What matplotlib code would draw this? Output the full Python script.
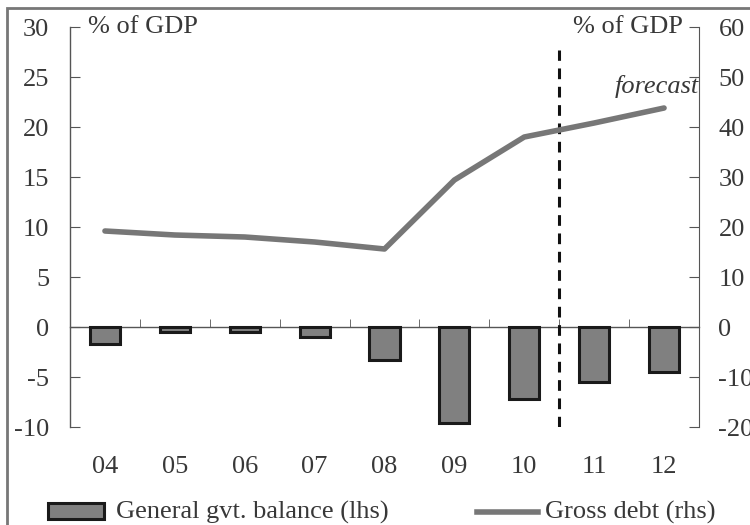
import matplotlib
matplotlib.use('Agg')
import matplotlib.pyplot as plt
from matplotlib.patches import Rectangle
from matplotlib.lines import Line2D
import numpy as np

plt.rcParams['font.family'] = ['Liberation Serif', 'DejaVu Serif']
plt.rcParams['axes.unicode_minus'] = False

years = ['04', '05', '06', '07', '08', '09', '10', '11', '12']
balance = [-1.7, -0.5, -0.5, -1.0, -3.3, -9.6, -7.2, -5.5, -4.5]   # % of GDP, lhs
gross_debt = [19.2, 18.4, 18.0, 17.0, 15.6, 29.4, 38.0, 40.8, 43.8]  # % of GDP, rhs

txt = '#383838'
bar_fill = '#808080'
line_col = '#777777'
fs = 19

fig = plt.figure(figsize=(7.5, 5.25), dpi=100)
ax = fig.add_axes([70/750, 98/525, 629/750, 400/525])
x = np.arange(len(years))

ax.bar(x, balance, width=0.43, color=bar_fill, edgecolor='#1a1a1a', linewidth=2.2, zorder=3)
ax.set_xlim(-0.5, len(years) - 0.5)
ax.set_ylim(-10, 30)
ax.set_yticks(range(-10, 31, 5))

# x axis sits on the zero line, small ticks between years pointing up
ax.spines['bottom'].set_position(('data', 0))
ax.spines['top'].set_visible(False)
ax.spines['right'].set_visible(False)
for s in ['left', 'bottom']:
    ax.spines[s].set_color('#555555')
    ax.spines[s].set_linewidth(1.0)
ax.set_xticks(x)
ax.set_xticklabels(years)
ax.set_xticks(np.arange(0.5, len(years) - 1, 1), minor=True)
ax.tick_params(axis='x', which='major', length=0, pad=93, labelsize=fs, labelcolor=txt)
ax.tick_params(axis='x', which='minor', direction='in', length=6, color='#555555')
ax.tick_params(axis='y', direction='in', length=7, pad=15, labelsize=fs,
               labelcolor=txt, color='#555555')

# gross debt on the right scale
ax2 = ax.twinx()
ax2.plot(x, gross_debt, color=line_col, linewidth=4, solid_capstyle='round', zorder=4)
ax2.set_ylim(-20, 60)
ax2.set_yticks(range(-20, 61, 10))
for s in ['left', 'bottom', 'top']:
    ax2.spines[s].set_visible(False)
ax2.spines['right'].set_color('#555555')
ax2.tick_params(axis='y', direction='in', length=7, pad=14, labelsize=fs,
                labelcolor=txt, color='#555555')

# forecast divider
ax.plot([6.5, 6.5], [-10, 27.7], color='#111111', linestyle=(0, (3.5, 2.5)),
        linewidth=2.2, zorder=5)

ax.text(0.028, 30, '% of GDP', fontsize=fs, color=txt, va='center', ha='left',
        transform=ax.get_yaxis_transform())
ax.text(0.975, 30, '% of GDP', fontsize=fs, color=txt, va='center', ha='right',
        transform=ax.get_yaxis_transform())
ax.text(1.0, 24.0, 'forecast', fontsize=fs, color=txt, style='italic',
        va='center', ha='right', transform=ax.get_yaxis_transform())

# legend drawn along the bottom edge
fig.patches.append(Rectangle((48/750, 6/525), 56/750, 16/525, transform=fig.transFigure,
                             facecolor=bar_fill, edgecolor='#1a1a1a', linewidth=2.2))
fig.text(116/750, 13/525, 'General gvt. balance (lhs)', fontsize=fs, color=txt, va='center')
fig.lines.append(Line2D([477/750, 538/750], [13/525, 13/525], transform=fig.transFigure,
                        color=line_col, linewidth=4))
fig.text(545/750, 13/525, 'Gross debt (rhs)', fontsize=fs, color=txt, va='center')

# frame around the panel (runs off the right and bottom edges)
fig.patches.append(Rectangle((7/750, -0.1), 1.2, 1 - 8/525 + 0.1, transform=fig.transFigure,
                             fill=False, edgecolor='#777777', linewidth=2))

fig.savefig('out.png', dpi=100)
